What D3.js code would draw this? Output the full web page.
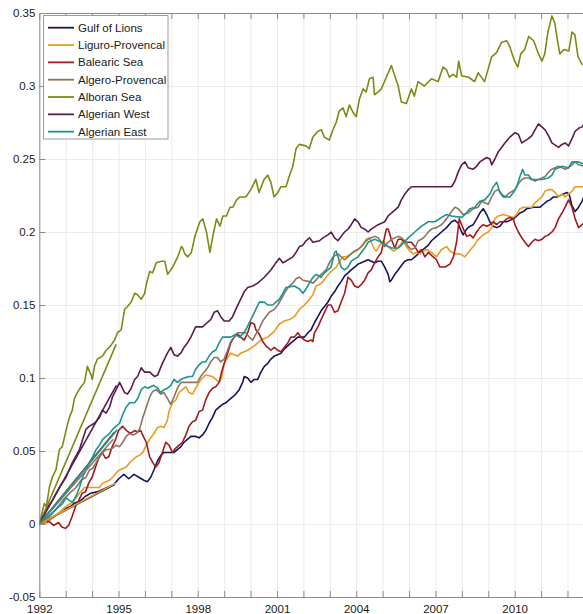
<!DOCTYPE html>
<html><head><meta charset="utf-8">
<script src="https://cdn.jsdelivr.net/npm/d3@7"></script>
<style>
body{margin:0;background:#fff}
svg{display:block}
text{font-family:"Liberation Sans",Arial,Helvetica,sans-serif;fill:#1a1a1a}
</style>
</head><body>
<svg id="chart" width="583" height="614"></svg>
<script>
// ---------- data ----------
const seriesNames = ["Gulf of Lions","Liguro-Provencal","Balearic Sea","Algero-Provencal","Alboran Sea","Algerian West","Algerian East"];
const seriesColors = ["#15155f","#eb9b22","#a31a1f","#8c7462","#7d8a16","#5a1c48","#1a958f"];
const xTickYears = [1992,1993,1994,1995,1996,1997,1998,1999,2000,2001,2002,2003,2004,2005,2006,2007,2008,2009,2010,2011,2012];
const xTickLabels = [1992,1995,1998,2001,2004,2007,2010];
const yTickValues = [-0.05,0,0.05,0.1,0.15,0.2,0.25,0.3,0.35];

const gulfOfLions = [[1992,0],[1992.29,0.001],[1992.54,0.005],[1992.8,0.008],[1993.05,0.011],[1993.18,0.012],[1993.3,0.014],[1993.56,0.016],[1993.75,0.019],[1993.94,0.021],[1994.19,0.022],[1994.32,0.023],[1994.57,0.025],[1994.82,0.027],[1995.01,0.031],[1995.2,0.034],[1995.39,0.031],[1995.58,0.034],[1995.77,0.032],[1995.96,0.030],[1996.09,0.029],[1996.22,0.032],[1996.34,0.037],[1996.47,0.043],[1996.6,0.047],[1996.72,0.049],[1996.85,0.049],[1996.98,0.049],[1997.1,0.049],[1997.23,0.051],[1997.36,0.053],[1997.48,0.056],[1997.61,0.058],[1997.74,0.060],[1997.92,0.060],[1998.05,0.059],[1998.18,0.061],[1998.3,0.064],[1998.43,0.069],[1998.56,0.073],[1998.68,0.078],[1998.81,0.080],[1998.94,0.082],[1999.06,0.083],[1999.19,0.085],[1999.32,0.087],[1999.44,0.089],[1999.57,0.092],[1999.7,0.097],[1999.76,0.101],[1999.89,0.100],[2000.01,0.097],[2000.14,0.099],[2000.27,0.099],[2000.39,0.104],[2000.52,0.108],[2000.65,0.110],[2000.77,0.113],[2000.9,0.115],[2001.03,0.116],[2001.15,0.117],[2001.28,0.120],[2001.41,0.122],[2001.53,0.124],[2001.66,0.126],[2001.79,0.128],[2001.91,0.128],[2002.04,0.128],[2002.17,0.131],[2002.29,0.133],[2002.42,0.138],[2002.55,0.142],[2002.67,0.146],[2002.8,0.149],[2002.93,0.152],[2003.05,0.156],[2003.18,0.159],[2003.31,0.163],[2003.43,0.166],[2003.56,0.170],[2003.69,0.172],[2003.81,0.174],[2003.94,0.176],[2004.07,0.178],[2004.19,0.179],[2004.32,0.180],[2004.45,0.181],[2004.57,0.180],[2004.7,0.179],[2004.83,0.180],[2004.95,0.180],[2005.08,0.176],[2005.21,0.171],[2005.27,0.166],[2005.33,0.167],[2005.46,0.171],[2005.59,0.174],[2005.71,0.177],[2005.84,0.180],[2005.97,0.181],[2006.09,0.181],[2006.22,0.183],[2006.35,0.185],[2006.47,0.187],[2006.6,0.189],[2006.73,0.191],[2006.85,0.194],[2007.04,0.197],[2007.23,0.200],[2007.42,0.203],[2007.61,0.207],[2007.74,0.208],[2007.86,0.206],[2007.99,0.200],[2008.05,0.198],[2008.18,0.202],[2008.31,0.204],[2008.43,0.205],[2008.56,0.209],[2008.68,0.213],[2008.81,0.216],[2008.94,0.212],[2009.06,0.207],[2009.19,0.204],[2009.32,0.203],[2009.44,0.204],[2009.57,0.207],[2009.7,0.207],[2009.95,0.209],[2010.08,0.211],[2010.2,0.213],[2010.33,0.214],[2010.46,0.216],[2010.71,0.217],[2010.84,0.217],[2010.96,0.217],[2011.09,0.219],[2011.22,0.221],[2011.34,0.222],[2011.47,0.224],[2011.6,0.224],[2011.85,0.226],[2011.98,0.227],[2012.06,0.226],[2012.17,0.218],[2012.29,0.214],[2012.42,0.217],[2012.55,0.221],[2012.66,0.226]];

const liguroProvencal = [[1992,0],[1992.25,0.001],[1992.51,0.004],[1992.76,0.008],[1993.01,0.012],[1993.26,0.015],[1993.52,0.021],[1993.71,0.025],[1993.9,0.025],[1994.09,0.025],[1994.28,0.025],[1994.4,0.028],[1994.53,0.029],[1994.66,0.030],[1994.78,0.032],[1994.91,0.035],[1995.04,0.037],[1995.16,0.038],[1995.29,0.039],[1995.42,0.042],[1995.54,0.044],[1995.67,0.046],[1995.8,0.047],[1995.92,0.049],[1996.05,0.054],[1996.18,0.058],[1996.34,0.062],[1996.47,0.066],[1996.6,0.067],[1996.72,0.066],[1996.85,0.071],[1996.91,0.077],[1997.04,0.083],[1997.17,0.085],[1997.29,0.090],[1997.42,0.092],[1997.55,0.094],[1997.67,0.090],[1997.8,0.089],[1997.92,0.093],[1998.05,0.097],[1998.18,0.100],[1998.3,0.102],[1998.56,0.101],[1998.68,0.099],[1998.81,0.097],[1998.9,0.100],[1999.0,0.110],[1999.13,0.114],[1999.25,0.117],[1999.38,0.116],[1999.51,0.115],[1999.63,0.117],[1999.89,0.119],[2000.14,0.122],[2000.39,0.126],[2000.65,0.128],[2000.9,0.132],[2001.09,0.137],[2001.28,0.139],[2001.47,0.140],[2001.66,0.142],[2001.85,0.147],[2002.04,0.150],[2002.23,0.154],[2002.36,0.157],[2002.48,0.163],[2002.61,0.164],[2002.74,0.166],[2002.86,0.169],[2002.99,0.172],[2003.12,0.174],[2003.24,0.176],[2003.37,0.180],[2003.5,0.183],[2003.62,0.183],[2003.88,0.186],[2004.0,0.187],[2004.13,0.189],[2004.26,0.191],[2004.38,0.195],[2004.51,0.196],[2004.57,0.193],[2004.7,0.188],[2004.76,0.187],[2004.89,0.191],[2005.02,0.194],[2005.14,0.191],[2005.27,0.189],[2005.4,0.187],[2005.52,0.188],[2005.65,0.191],[2005.78,0.194],[2005.9,0.190],[2006.03,0.187],[2006.16,0.185],[2006.28,0.186],[2006.41,0.185],[2006.53,0.187],[2006.66,0.188],[2006.85,0.186],[2007.04,0.183],[2007.23,0.188],[2007.42,0.190],[2007.55,0.187],[2007.74,0.185],[2007.93,0.185],[2008.12,0.183],[2008.24,0.186],[2008.43,0.190],[2008.62,0.195],[2008.81,0.198],[2009.0,0.200],[2009.13,0.203],[2009.25,0.209],[2009.38,0.211],[2009.57,0.212],[2009.76,0.211],[2009.95,0.210],[2010.08,0.212],[2010.2,0.216],[2010.33,0.217],[2010.52,0.217],[2010.65,0.217],[2010.77,0.220],[2010.9,0.222],[2011.03,0.224],[2011.15,0.228],[2011.28,0.229],[2011.41,0.229],[2011.53,0.227],[2011.66,0.224],[2011.79,0.226],[2011.91,0.224],[2012.04,0.226],[2012.17,0.228],[2012.29,0.231],[2012.42,0.231],[2012.66,0.231]];

const balearicSea = [[1992,0],[1992.23,0.003],[1992.42,0.001],[1992.54,-0.001],[1992.73,0.001],[1992.86,-0.002],[1992.99,-0.003],[1993.11,-0.001],[1993.24,0.005],[1993.37,0.012],[1993.49,0.016],[1993.62,0.021],[1993.75,0.022],[1993.87,0.028],[1994.0,0.032],[1994.13,0.039],[1994.25,0.045],[1994.38,0.049],[1994.51,0.045],[1994.63,0.046],[1994.76,0.053],[1994.89,0.058],[1995.0,0.064],[1995.15,0.067],[1995.3,0.064],[1995.46,0.062],[1995.61,0.064],[1995.72,0.063],[1995.84,0.064],[1995.91,0.061],[1996.05,0.056],[1996.18,0.046],[1996.3,0.042],[1996.41,0.039],[1996.53,0.042],[1996.66,0.049],[1996.79,0.056],[1996.91,0.054],[1997.04,0.049],[1997.17,0.052],[1997.29,0.054],[1997.42,0.056],[1997.55,0.061],[1997.67,0.067],[1997.8,0.070],[1997.92,0.071],[1998.05,0.077],[1998.18,0.078],[1998.3,0.085],[1998.43,0.090],[1998.56,0.093],[1998.68,0.094],[1998.81,0.097],[1998.9,0.104],[1999.0,0.110],[1999.13,0.117],[1999.25,0.124],[1999.38,0.128],[1999.51,0.130],[1999.63,0.128],[1999.76,0.126],[1999.89,0.131],[2000.01,0.138],[2000.14,0.137],[2000.2,0.133],[2000.33,0.130],[2000.46,0.125],[2000.58,0.122],[2000.77,0.119],[2000.9,0.121],[2001.03,0.119],[2001.15,0.118],[2001.28,0.121],[2001.41,0.124],[2001.53,0.128],[2001.66,0.128],[2001.79,0.131],[2001.91,0.128],[2002.04,0.126],[2002.17,0.125],[2002.29,0.126],[2002.36,0.125],[2002.42,0.131],[2002.55,0.135],[2002.67,0.140],[2002.8,0.145],[2002.93,0.150],[2003.05,0.150],[2003.18,0.145],[2003.31,0.146],[2003.43,0.152],[2003.56,0.158],[2003.69,0.169],[2003.81,0.167],[2003.94,0.163],[2004.07,0.162],[2004.19,0.164],[2004.32,0.167],[2004.45,0.172],[2004.57,0.174],[2004.7,0.179],[2004.83,0.183],[2004.95,0.186],[2005.08,0.197],[2005.14,0.202],[2005.21,0.202],[2005.33,0.195],[2005.46,0.189],[2005.59,0.195],[2005.71,0.195],[2005.84,0.193],[2005.97,0.193],[2006.09,0.193],[2006.22,0.190],[2006.35,0.186],[2006.47,0.188],[2006.6,0.183],[2006.73,0.186],[2006.85,0.184],[2007.04,0.181],[2007.17,0.176],[2007.36,0.176],[2007.55,0.178],[2007.68,0.183],[2007.8,0.193],[2007.9,0.209],[2007.99,0.205],[2008.18,0.197],[2008.31,0.198],[2008.43,0.196],[2008.56,0.200],[2008.68,0.203],[2008.81,0.205],[2008.94,0.204],[2009.06,0.205],[2009.19,0.207],[2009.32,0.205],[2009.44,0.207],[2009.57,0.207],[2009.7,0.209],[2009.82,0.210],[2009.95,0.209],[2010.01,0.205],[2010.14,0.200],[2010.27,0.196],[2010.39,0.193],[2010.52,0.190],[2010.65,0.193],[2010.77,0.195],[2010.9,0.194],[2011.03,0.195],[2011.15,0.197],[2011.28,0.198],[2011.41,0.200],[2011.53,0.203],[2011.66,0.209],[2011.79,0.213],[2011.91,0.217],[2012.04,0.222],[2012.17,0.217],[2012.29,0.209],[2012.42,0.203],[2012.55,0.205],[2012.66,0.207]];

const algeroProvencal = [[1992,0],[1992.38,0.006],[1992.63,0.010],[1992.88,0.016],[1993.14,0.021],[1993.39,0.025],[1993.58,0.030],[1993.77,0.032],[1993.9,0.037],[1994.02,0.038],[1994.15,0.042],[1994.28,0.046],[1994.4,0.049],[1994.53,0.051],[1994.66,0.051],[1994.78,0.052],[1994.91,0.054],[1995.04,0.053],[1995.16,0.056],[1995.29,0.060],[1995.42,0.062],[1995.54,0.061],[1995.67,0.062],[1995.8,0.065],[1995.92,0.073],[1996.05,0.080],[1996.18,0.087],[1996.3,0.091],[1996.43,0.092],[1996.6,0.089],[1996.72,0.090],[1996.85,0.086],[1996.98,0.082],[1997.1,0.087],[1997.23,0.093],[1997.36,0.097],[1997.48,0.097],[1997.67,0.097],[1997.86,0.097],[1997.99,0.097],[1998.11,0.101],[1998.24,0.104],[1998.37,0.107],[1998.49,0.111],[1998.62,0.114],[1998.75,0.114],[1998.87,0.111],[1999.0,0.113],[1999.13,0.119],[1999.25,0.125],[1999.38,0.128],[1999.51,0.131],[1999.7,0.131],[1999.82,0.131],[1999.95,0.128],[2000.08,0.126],[2000.2,0.130],[2000.33,0.134],[2000.46,0.139],[2000.58,0.142],[2000.71,0.145],[2000.9,0.147],[2001.03,0.150],[2001.22,0.156],[2001.34,0.160],[2001.47,0.163],[2001.6,0.165],[2001.72,0.168],[2001.85,0.169],[2001.98,0.167],[2002.23,0.166],[2002.36,0.165],[2002.48,0.167],[2002.61,0.170],[2002.74,0.172],[2002.86,0.174],[2002.99,0.179],[2003.12,0.183],[2003.31,0.185],[2003.43,0.183],[2003.56,0.181],[2003.69,0.183],[2003.81,0.185],[2003.94,0.187],[2004.07,0.188],[2004.19,0.190],[2004.32,0.193],[2004.45,0.195],[2004.57,0.196],[2004.7,0.197],[2004.83,0.196],[2004.95,0.193],[2005.08,0.190],[2005.21,0.193],[2005.33,0.195],[2005.59,0.197],[2005.71,0.196],[2005.84,0.194],[2005.97,0.190],[2006.09,0.188],[2006.22,0.189],[2006.35,0.194],[2006.47,0.195],[2006.6,0.197],[2006.73,0.200],[2006.85,0.202],[2007.04,0.203],[2007.23,0.205],[2007.42,0.209],[2007.61,0.214],[2007.74,0.217],[2007.86,0.216],[2008.05,0.212],[2008.24,0.213],[2008.43,0.216],[2008.62,0.217],[2008.75,0.221],[2008.87,0.220],[2009.0,0.219],[2009.13,0.224],[2009.25,0.228],[2009.38,0.229],[2009.51,0.226],[2009.63,0.224],[2009.82,0.227],[2010.01,0.229],[2010.14,0.233],[2010.27,0.236],[2010.39,0.237],[2010.52,0.237],[2010.65,0.236],[2010.77,0.235],[2010.9,0.236],[2011.03,0.237],[2011.15,0.238],[2011.28,0.241],[2011.41,0.243],[2011.53,0.244],[2011.66,0.245],[2011.79,0.244],[2011.91,0.243],[2012.04,0.244],[2012.17,0.246],[2012.29,0.248],[2012.42,0.246],[2012.66,0.245]];

const alboranSea = [[1992,0],[1992.19,0.014],[1992.27,0.012],[1992.38,0.025],[1992.49,0.032],[1992.63,0.037],[1992.76,0.051],[1992.87,0.053],[1993.01,0.064],[1993.14,0.073],[1993.25,0.078],[1993.33,0.086],[1993.44,0.090],[1993.58,0.094],[1993.71,0.097],[1993.82,0.108],[1993.96,0.102],[1994.01,0.099],[1994.09,0.108],[1994.2,0.113],[1994.39,0.115],[1994.53,0.119],[1994.7,0.122],[1994.85,0.126],[1994.96,0.131],[1995.1,0.133],[1995.23,0.147],[1995.34,0.149],[1995.48,0.152],[1995.61,0.158],[1995.72,0.157],[1995.86,0.154],[1995.99,0.158],[1996.05,0.164],[1996.18,0.173],[1996.29,0.172],[1996.43,0.179],[1996.62,0.180],[1996.75,0.180],[1996.86,0.171],[1997.05,0.176],[1997.24,0.183],[1997.38,0.190],[1997.43,0.189],[1997.51,0.185],[1997.62,0.183],[1997.76,0.186],[1997.89,0.197],[1998.08,0.207],[1998.19,0.209],[1998.33,0.200],[1998.46,0.186],[1998.57,0.197],[1998.71,0.209],[1998.84,0.204],[1998.95,0.211],[1999.09,0.211],[1999.22,0.217],[1999.33,0.217],[1999.47,0.222],[1999.6,0.224],[1999.82,0.224],[2000.01,0.229],[2000.2,0.236],[2000.32,0.227],[2000.51,0.236],[2000.65,0.239],[2000.77,0.234],[2000.89,0.224],[2001.03,0.227],[2001.15,0.231],[2001.34,0.231],[2001.46,0.238],[2001.6,0.245],[2001.72,0.257],[2001.84,0.260],[2002.1,0.259],[2002.22,0.257],[2002.36,0.265],[2002.55,0.269],[2002.68,0.270],[2002.79,0.265],[2002.98,0.263],[2003.12,0.270],[2003.24,0.275],[2003.36,0.283],[2003.5,0.285],[2003.62,0.279],[2003.74,0.287],[2003.88,0.282],[2004.0,0.279],[2004.12,0.291],[2004.26,0.298],[2004.38,0.296],[2004.5,0.305],[2004.64,0.306],[2004.69,0.294],[2004.83,0.296],[2004.95,0.298],[2005.14,0.306],[2005.33,0.314],[2005.44,0.308],[2005.59,0.300],[2005.71,0.289],[2005.9,0.288],[2006.09,0.298],[2006.2,0.293],[2006.34,0.303],[2006.58,0.300],[2006.85,0.305],[2007.1,0.303],[2007.29,0.313],[2007.42,0.311],[2007.53,0.306],[2007.67,0.308],[2007.8,0.306],[2007.88,0.317],[2007.99,0.307],[2008.26,0.306],[2008.48,0.303],[2008.62,0.309],[2008.86,0.303],[2009.13,0.320],[2009.32,0.323],[2009.51,0.330],[2009.7,0.331],[2009.81,0.327],[2010.0,0.317],[2010.12,0.313],[2010.23,0.322],[2010.38,0.325],[2010.53,0.334],[2010.72,0.331],[2010.88,0.323],[2011.03,0.317],[2011.14,0.322],[2011.26,0.337],[2011.41,0.348],[2011.52,0.343],[2011.64,0.329],[2011.71,0.322],[2011.86,0.325],[2012.05,0.324],[2012.17,0.337],[2012.28,0.335],[2012.4,0.320],[2012.55,0.315],[2012.66,0.314]];

const algerianWest = [[1992,0],[1992.25,0.010],[1992.49,0.016],[1992.76,0.025],[1993.01,0.032],[1993.25,0.042],[1993.52,0.051],[1993.77,0.065],[1993.9,0.067],[1994.09,0.069],[1994.28,0.073],[1994.39,0.078],[1994.53,0.076],[1994.66,0.080],[1994.77,0.087],[1994.91,0.092],[1995.04,0.097],[1995.23,0.090],[1995.34,0.089],[1995.48,0.093],[1995.61,0.099],[1995.72,0.101],[1995.86,0.107],[1995.99,0.104],[1996.18,0.104],[1996.37,0.101],[1996.48,0.102],[1996.66,0.110],[1996.85,0.117],[1996.98,0.121],[1997.1,0.116],[1997.23,0.115],[1997.36,0.117],[1997.48,0.121],[1997.61,0.124],[1997.74,0.128],[1997.92,0.135],[1998.05,0.135],[1998.18,0.135],[1998.3,0.137],[1998.49,0.140],[1998.62,0.145],[1998.75,0.146],[1998.87,0.142],[1999.0,0.139],[1999.19,0.139],[1999.32,0.142],[1999.44,0.147],[1999.57,0.152],[1999.76,0.159],[1999.89,0.162],[2000.08,0.163],[2000.27,0.165],[2000.52,0.169],[2000.77,0.174],[2000.96,0.179],[2001.09,0.182],[2001.22,0.179],[2001.34,0.180],[2001.6,0.183],[2001.72,0.186],[2001.85,0.190],[2001.98,0.191],[2002.1,0.194],[2002.23,0.196],[2002.36,0.193],[2002.61,0.194],[2002.74,0.196],[2002.93,0.198],[2003.05,0.200],[2003.18,0.196],[2003.31,0.194],[2003.43,0.197],[2003.56,0.200],[2003.69,0.202],[2003.81,0.205],[2003.94,0.209],[2004.07,0.207],[2004.19,0.203],[2004.32,0.202],[2004.45,0.200],[2004.57,0.202],[2004.83,0.205],[2005.08,0.207],[2005.21,0.211],[2005.33,0.213],[2005.59,0.217],[2005.71,0.222],[2005.84,0.226],[2005.97,0.229],[2006.09,0.231],[2006.35,0.231],[2006.6,0.231],[2006.85,0.231],[2007.23,0.231],[2007.61,0.231],[2007.74,0.235],[2007.86,0.241],[2007.99,0.246],[2008.12,0.248],[2008.24,0.244],[2008.43,0.243],[2008.56,0.245],[2008.68,0.248],[2008.94,0.251],[2009.06,0.250],[2009.13,0.246],[2009.25,0.250],[2009.38,0.255],[2009.51,0.258],[2009.63,0.261],[2009.82,0.265],[2010.01,0.268],[2010.14,0.267],[2010.27,0.261],[2010.52,0.264],[2010.65,0.266],[2010.77,0.270],[2010.9,0.274],[2011.03,0.272],[2011.15,0.270],[2011.28,0.266],[2011.41,0.261],[2011.66,0.258],[2011.79,0.260],[2011.91,0.261],[2012.04,0.259],[2012.17,0.264],[2012.29,0.269],[2012.42,0.271],[2012.55,0.272],[2012.66,0.275]];

const algerianEast = [[1992,0],[1992.38,0.005],[1992.63,0.010],[1992.88,0.014],[1993.01,0.018],[1993.14,0.016],[1993.26,0.015],[1993.39,0.019],[1993.52,0.025],[1993.64,0.032],[1993.77,0.037],[1993.9,0.042],[1994.02,0.046],[1994.15,0.051],[1994.28,0.054],[1994.4,0.058],[1994.53,0.060],[1994.66,0.062],[1994.78,0.065],[1994.91,0.067],[1995.04,0.069],[1995.16,0.075],[1995.29,0.080],[1995.42,0.083],[1995.61,0.083],[1995.73,0.086],[1995.86,0.092],[1995.99,0.094],[1996.11,0.093],[1996.33,0.095],[1996.48,0.093],[1996.6,0.090],[1996.72,0.092],[1996.85,0.093],[1996.98,0.095],[1997.1,0.099],[1997.23,0.097],[1997.36,0.099],[1997.48,0.100],[1997.67,0.101],[1997.8,0.101],[1997.92,0.106],[1998.05,0.109],[1998.18,0.111],[1998.3,0.111],[1998.43,0.115],[1998.56,0.118],[1998.68,0.119],[1998.81,0.124],[1998.94,0.128],[1999.06,0.128],[1999.25,0.128],[1999.44,0.130],[1999.57,0.128],[1999.7,0.130],[1999.82,0.133],[2000.01,0.140],[2000.2,0.147],[2000.33,0.152],[2000.52,0.152],[2000.65,0.150],[2000.84,0.150],[2000.96,0.152],[2001.09,0.154],[2001.22,0.158],[2001.34,0.162],[2001.66,0.163],[2001.85,0.161],[2001.98,0.158],[2002.1,0.161],[2002.23,0.165],[2002.36,0.169],[2002.48,0.171],[2002.67,0.169],[2002.8,0.172],[2002.93,0.174],[2003.05,0.176],[2003.18,0.186],[2003.24,0.187],[2003.31,0.183],[2003.43,0.176],[2003.56,0.174],[2003.69,0.176],[2003.81,0.180],[2004.07,0.183],[2004.19,0.186],[2004.32,0.189],[2004.45,0.193],[2004.57,0.194],[2004.7,0.195],[2004.95,0.193],[2005.21,0.190],[2005.33,0.189],[2005.59,0.189],[2005.71,0.191],[2005.97,0.196],[2006.22,0.200],[2006.47,0.204],[2006.73,0.207],[2006.98,0.207],[2007.23,0.210],[2007.42,0.212],[2007.61,0.211],[2007.99,0.210],[2008.12,0.212],[2008.31,0.216],[2008.49,0.217],[2008.68,0.221],[2008.87,0.222],[2009.06,0.226],[2009.19,0.231],[2009.32,0.234],[2009.44,0.227],[2009.57,0.224],[2009.82,0.224],[2009.95,0.227],[2010.08,0.231],[2010.2,0.238],[2010.3,0.243],[2010.39,0.239],[2010.52,0.239],[2010.65,0.236],[2011.03,0.236],[2011.28,0.237],[2011.41,0.239],[2011.53,0.243],[2011.79,0.245],[2012.04,0.244],[2012.17,0.248],[2012.42,0.248],[2012.66,0.246]];

// early-period linear trends (start 1992, 0) per series, same order as seriesNames
const trendEndYears = [1994.85,1994.9,1994.85,1994.8,1994.91,1994.92,1994.95];
const trendEndValues = [0.027,0.028,0.063,0.058,0.123,0.095,0.0645];

// ---------- layout ----------
const plotLeft = 39.3, plotTop = 13, plotRight = 593.9, plotBottom = 597;
const svg = d3.select("#chart");

const x = d3.scaleLinear().domain([1992, 2013]).range([plotLeft, plotRight]);
const y = d3.scaleLinear().domain([-0.05, 0.35]).range([plotBottom, plotTop]);

svg.append("defs").append("clipPath").attr("id","plotclip")
  .append("rect").attr("x",plotLeft).attr("y",plotTop).attr("width",plotRight-plotLeft).attr("height",plotBottom-plotTop);

// grid
const grid = svg.append("g");
grid.append("g").attr("transform",`translate(0,${plotBottom})`)
  .call(d3.axisBottom(x).tickValues(xTickYears.concat([2013])).tickSize(-(plotBottom-plotTop)).tickFormat(""))
  .call(g=>g.select(".domain").remove())
  .call(g=>g.selectAll("line").attr("stroke","#ebebeb").attr("stroke-width",1));
grid.append("g").attr("transform",`translate(${plotLeft},0)`)
  .call(d3.axisLeft(y).tickValues(yTickValues).tickSize(-(plotRight-plotLeft)).tickFormat(""))
  .call(g=>g.select(".domain").remove())
  .call(g=>g.selectAll("line").attr("stroke","#ebebeb").attr("stroke-width",1));

// series
const allSeries = [gulfOfLions, liguroProvencal, balearicSea, algeroProvencal, alboranSea, algerianWest, algerianEast];
const line = d3.line().x(d=>x(d[0])).y(d=>y(d[1]));
const plot = svg.append("g").attr("clip-path","url(#plotclip)");
allSeries.forEach((s,i)=>{
  plot.append("path").datum(s).attr("d",line).attr("fill","none")
    .attr("stroke",seriesColors[i]).attr("stroke-width",1.6).attr("stroke-linejoin","round");
});
seriesNames.forEach((n,i)=>{
  plot.append("path").datum([[1992,0],[trendEndYears[i],trendEndValues[i]]]).attr("d",line)
    .attr("fill","none").attr("stroke",seriesColors[i]).attr("stroke-width",1.6);
});

// axes (box)
const axisColor = "#8a8a8a";
const fontSize = "11.5px";
const xb = svg.append("g").attr("transform",`translate(0,${plotBottom})`)
  .call(d3.axisBottom(x).tickValues(xTickYears.concat([2013])).tickSizeInner(-6).tickSizeOuter(0)
    .tickFormat(d=> xTickLabels.includes(d) ? String(d) : ""));
xb.select(".domain").attr("stroke",axisColor);
xb.selectAll("line").attr("stroke",axisColor);
xb.selectAll("text").attr("y",15.5).attr("dy",null).style("font-size",fontSize).attr("fill","#1a1a1a");

const xt = svg.append("g").attr("transform",`translate(0,${plotTop})`)
  .call(d3.axisTop(x).tickValues(xTickYears.concat([2013])).tickSizeInner(-6).tickSizeOuter(0).tickFormat(""));
xt.select(".domain").attr("stroke",axisColor);
xt.selectAll("line").attr("stroke",axisColor);

const yl = svg.append("g").attr("transform",`translate(${plotLeft},0)`)
  .call(d3.axisLeft(y).tickValues(yTickValues).tickSizeInner(-6).tickSizeOuter(0)
    .tickFormat(d=> d===0 ? "0" : String(+d.toFixed(2))));
yl.select(".domain").attr("stroke",axisColor);
yl.selectAll("line").attr("stroke",axisColor);
yl.selectAll("text").attr("x",-4).style("font-size",fontSize).attr("fill","#1a1a1a");

// legend
const lg = svg.append("g");
lg.append("rect").attr("x",43.5).attr("y",15.5).attr("width",124.5).attr("height",123.5)
  .attr("fill","#fff").attr("stroke","#9a9a9a").attr("stroke-width",1);
seriesNames.forEach((n,i)=>{
  const cy = 27.7 + i*17.33;
  lg.append("line").attr("x1",48).attr("x2",74).attr("y1",cy).attr("y2",cy)
    .attr("stroke",seriesColors[i]).attr("stroke-width",1.8);
  lg.append("text").attr("x",78).attr("y",cy).attr("dy","0.35em").style("font-size",fontSize).text(n);
});
</script>
</body></html>
